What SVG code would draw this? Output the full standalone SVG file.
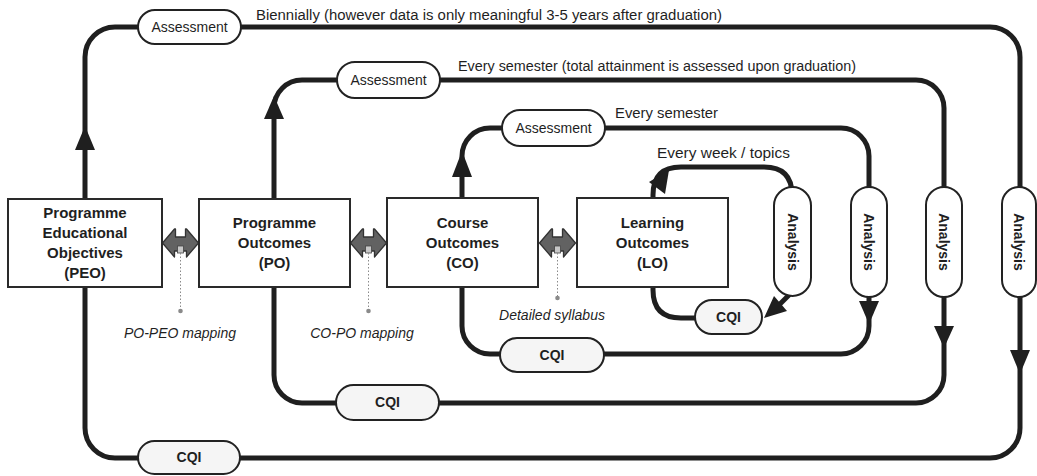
<svg xmlns="http://www.w3.org/2000/svg" width="1037" height="476" viewBox="0 0 1037 476">
<style>
.ln{fill:none;stroke:#1f1f1f;stroke-width:5}
.ah{fill:#1f1f1f}
.box{fill:#fff;stroke:#2a2a2a;stroke-width:2}
.pill{fill:#fff;stroke:#222;stroke-width:2}
.cqi{fill:#f5f5f5;stroke:#222;stroke-width:2}
.t{font-family:"Liberation Sans",Arial,sans-serif;fill:#1f1f1f}
.bx{font-size:15px;font-weight:bold;text-anchor:middle}
.pl{font-size:14px;text-anchor:middle}
.cq{font-size:14px;font-weight:bold;text-anchor:middle}
.an{font-size:14px;font-weight:bold;text-anchor:middle;dominant-baseline:central}
.fr{font-size:14px}
.it{font-size:14px;font-style:italic;text-anchor:middle}
.dash{stroke:#8a8a8a;stroke-width:1;stroke-dasharray:1.5 2;fill:none}
.dot{fill:#8a8a8a}
.dbl{fill:#626262;stroke:#333;stroke-width:1.3;stroke-linejoin:round}
.sq{fill:#c8c8c8;stroke:#444;stroke-width:0.8}
</style>
<defs>
<g id="dblarrow">
<polygon class="dbl" points="-18,0 -6,-14 -5,-14 -5,-6 5,-6 5,-14 6,-14 18,0 6,14 6,8 -6,8 -6,14"/>
<rect class="sq" x="-3" y="3" width="6" height="7"/>
</g>
</defs>

<g id="connectors">
<rect class="ln" x="85" y="27" width="935" height="431" rx="30"/>
<rect class="ln" x="274" y="80" width="670" height="323" rx="28"/>
<rect class="ln" x="462" y="128" width="407" height="226" rx="28"/>
<path class="ln" d="M700,318 H681 Q653,318 653,290 V195 Q653,167 681,167 H764 Q792,167 792,195 V240"/>
<path class="ln" d="M790,294 L772,312"/>
<polygon class="ah" points="85,126 75,150 95,150"/>
<polygon class="ah" points="274,96 264,119 284,119"/>
<polygon class="ah" points="462,151 452,177 472,177"/>
<polygon class="ah" points="669,170 665,194 649,182"/>
<polygon class="ah" points="869,324 859,301 879,301"/>
<polygon class="ah" points="944,348 934,326 954,326"/>
<polygon class="ah" points="1020,374 1010,350 1030,350"/>
<polygon class="ah" points="764,318 787,311 774,296"/>
</g>

<g id="mappings">
<use href="#dblarrow" x="180.5" y="243"/>
<use href="#dblarrow" x="368.5" y="243"/>
<use href="#dblarrow" x="557.5" y="243"/>
<line class="dash" x1="180.5" y1="253" x2="180.5" y2="311"/>
<circle class="dot" cx="180.5" cy="311" r="2.3"/>
<line class="dash" x1="368.5" y1="253" x2="368.5" y2="311"/>
<circle class="dot" cx="368.5" cy="311" r="2.3"/>
<line class="dash" x1="557.5" y1="253" x2="557.5" y2="298"/>
<circle class="dot" cx="557.5" cy="298" r="2.3"/>
<text class="t it" x="180" y="338">PO-PEO mapping</text>
<text class="t it" x="362" y="338">CO-PO mapping</text>
<text class="t it" x="552" y="320">Detailed syllabus</text>
</g>

<g id="peo">
<rect class="box" x="8" y="199" width="154" height="88"/>
<text class="t bx" x="85" y="218">Programme</text>
<text class="t bx" x="85" y="238">Educational</text>
<text class="t bx" x="85" y="258">Objectives</text>
<text class="t bx" x="85" y="278">(PEO)</text>
</g>
<g id="po">
<rect class="box" x="199" y="199" width="151" height="88"/>
<text class="t bx" x="274.5" y="228">Programme</text>
<text class="t bx" x="274.5" y="248">Outcomes</text>
<text class="t bx" x="274.5" y="268">(PO)</text>
</g>
<g id="co">
<rect class="box" x="387" y="198" width="151" height="89"/>
<text class="t bx" x="462.5" y="228">Course</text>
<text class="t bx" x="462.5" y="248">Outcomes</text>
<text class="t bx" x="462.5" y="268">(CO)</text>
</g>
<g id="lo">
<rect class="box" x="577" y="198" width="151" height="89"/>
<text class="t bx" x="652.5" y="228">Learning</text>
<text class="t bx" x="652.5" y="248">Outcomes</text>
<text class="t bx" x="652.5" y="268">(LO)</text>
</g>

<g id="assess-peo">
<rect class="pill" x="138" y="10" width="103" height="34" rx="17"/>
<text class="t pl" x="189.5" y="32">Assessment</text>
</g>
<g id="assess-po">
<rect class="pill" x="337" y="62" width="103" height="36" rx="18"/>
<text class="t pl" x="388.5" y="85">Assessment</text>
</g>
<g id="assess-co">
<rect class="pill" x="502" y="110" width="103" height="36" rx="18"/>
<text class="t pl" x="553.5" y="133">Assessment</text>
</g>

<g id="freq-labels">
<text class="t fr" x="256" y="20" textLength="466" lengthAdjust="spacingAndGlyphs">Biennially (however data is only meaningful 3-5 years after graduation)</text>
<text class="t fr" x="458" y="71" textLength="398" lengthAdjust="spacingAndGlyphs">Every semester (total attainment is assessed upon graduation)</text>
<text class="t fr" x="615" y="118" textLength="103" lengthAdjust="spacingAndGlyphs">Every semester</text>
<text class="t fr" x="657" y="158" textLength="133" lengthAdjust="spacingAndGlyphs">Every week / topics</text>
</g>

<g id="analysis-lo">
<rect class="pill" x="774" y="187" width="37" height="109" rx="18.5"/>
<text class="t an" transform="translate(792.5,242) rotate(90)">Analysis</text>
</g>
<g id="analysis-co">
<rect class="pill" x="851" y="187" width="36" height="110" rx="18"/>
<text class="t an" transform="translate(869,242) rotate(90)">Analysis</text>
</g>
<g id="analysis-po">
<rect class="pill" x="926" y="187" width="36" height="110" rx="18"/>
<text class="t an" transform="translate(944,242) rotate(90)">Analysis</text>
</g>
<g id="analysis-peo">
<rect class="pill" x="1002" y="187" width="34" height="110" rx="17"/>
<text class="t an" transform="translate(1019,242) rotate(90)">Analysis</text>
</g>

<g id="cqi-lo">
<rect class="cqi" x="695" y="300" width="67" height="34" rx="17"/>
<text class="t cq" x="728.5" y="322">CQI</text>
</g>
<g id="cqi-co">
<rect class="cqi" x="500" y="338" width="104" height="34" rx="17"/>
<text class="t cq" x="552" y="360">CQI</text>
</g>
<g id="cqi-po">
<rect class="cqi" x="336" y="385" width="103" height="35" rx="17.5"/>
<text class="t cq" x="387.5" y="407">CQI</text>
</g>
<g id="cqi-peo">
<rect class="cqi" x="138" y="441" width="102" height="33" rx="16.5"/>
<text class="t cq" x="189" y="462">CQI</text>
</g>
</svg>
